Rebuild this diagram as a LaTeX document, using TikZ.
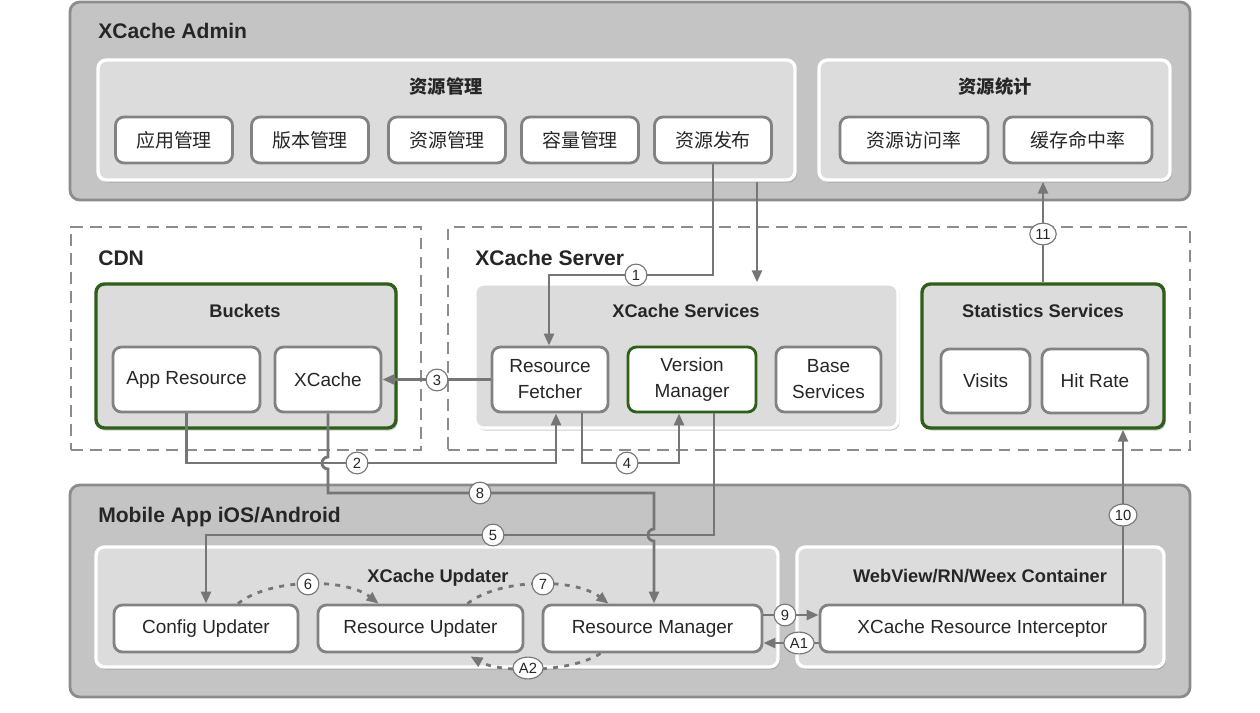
\documentclass[tikz,border=0pt]{standalone}
\usepackage{fontspec}
\setmainfont{Liberation Sans}
\newfontfamily\cjk{Noto Sans CJK SC}
\usetikzlibrary{arrows.meta,calc,shadows,shapes.geometric}
\definecolor{panelfill}{RGB}{196,196,196}
\definecolor{panelline}{RGB}{140,140,140}
\definecolor{grpfill}{RGB}{220,220,220}
\definecolor{boxline}{RGB}{130,130,130}
\definecolor{darkgreen}{RGB}{45,95,25}
\definecolor{flowgray}{RGB}{118,118,118}
\definecolor{textgray}{RGB}{38,38,38}
\tikzstyle{panel}=[draw=panelline,fill=panelfill,line width=2pt,rounded corners=7pt,inner sep=0]
\tikzstyle{zone}=[draw=panelline,line width=1.6pt,dash pattern=on 8.5pt off 5pt,inner sep=0]
\tikzset{
  sz/.style 2 args={minimum width=#1*0.025cm,minimum height=#2*0.025cm},
  grp/.style={fill=grpfill,draw=white,line width=2.4pt,rounded corners=6pt,inner sep=0,
    drop shadow={shadow xshift=1.2pt,shadow yshift=-1.8pt,opacity=0.4}},
  ggrp/.style={grp,draw=darkgreen},
  leaf/.style={fill=white,draw=boxline,line width=2pt,rounded corners=6pt,inner sep=0,
    align=center,text=textgray,font=\fontsize{13.5}{18.5}\selectfont},
  gleaf/.style={leaf,draw=darkgreen},
  ptitle/.style={anchor=west,inner sep=0,text=textgray,text height=10.7pt,text depth=0pt,
    font=\fontsize{15}{18}\selectfont\bfseries},
  gtitle/.style={inner sep=0,text=textgray,text height=9.3pt,text depth=0pt,
    font=\fontsize{13}{16}\selectfont\bfseries},
  badge/.style={ellipse,draw=flowgray,line width=0.8pt,fill=white,inner sep=1.2pt,
    minimum width=15.5pt,minimum height=15.5pt,text=textgray,font=\fontsize{10.5}{12}\selectfont},
  flow/.style={draw=flowgray,line width=2pt,-{Triangle[length=8.5pt,width=7pt]}},
  dflow/.style={flow,dash pattern=on 3.5pt off 4.5pt}
}

\begin{document}
\begin{tikzpicture}[x=0.025cm,y=-0.025cm]
\path[use as bounding box,fill=white] (0,0) rectangle (1260,712);

\node[panel,sz={1120}{198}] (admin) at (630,101) {};
\node[panel,sz={1120}{212}] (mob) at (630,591) {};
\node[zone,sz={350}{223}] (cdn) at (246,338.5) {};
\node[zone,sz={742}{223}] (srv) at (819,338.5) {};

\node[grp,sz={697}{120}] (mgmt) at (446.5,120) {};
\node[grp,sz={351}{120}] (stat) at (994.5,120) {};
\node[ggrp,sz={300}{144}] (bkt) at (246,356) {};
\node[grp,sz={423}{144}] (svc) at (686.5,356) {};
\node[ggrp,sz={242}{144}] (ss) at (1043,356) {};
\node[grp,sz={682}{120}] (upd) at (437,607) {};
\node[grp,sz={367}{120}] (ctr) at (980.5,607) {};

\node[leaf,sz={117}{46}] (appm) at (174,140) {\cjk 应用管理};
\node[leaf,sz={117}{46}] (verm) at (310,140) {\cjk 版本管理};
\node[leaf,sz={117}{46}] (resm) at (447,140) {\cjk 资源管理};
\node[leaf,sz={117}{46}] (capm) at (580,140) {\cjk 容量管理};
\node[leaf,sz={117}{46}] (rel) at (713,140) {\cjk 资源发布};
\node[leaf,sz={148}{46}] (vrate) at (914,140) {\cjk 资源访问率};
\node[leaf,sz={148}{46}] (hrate) at (1078,140) {\cjk 缓存命中率};

\node[leaf,sz={147}{65}] (appres) at (186.5,379.5) {App Resource};
\node[leaf,sz={106}{65}] (xc) at (328,379.5) {XCache};
\node[leaf,sz={116}{65}] (fetch) at (550,379.5) {Resource\\Fetcher};
\node[gleaf,sz={128}{65}] (vm) at (692,379.5) {Version\\Manager};
\node[leaf,sz={105}{65}] (base) at (828.5,379.5) {Base\\Services};
\node[leaf,sz={89}{64}] (visits) at (985.5,381) {Visits};
\node[leaf,sz={106}{64}] (hit) at (1095,381) {Hit Rate};

\node[leaf,sz={184}{47}] (cfg) at (206,628.5) {Config Updater};
\node[leaf,sz={205}{47}] (ru) at (420.5,628.5) {Resource Updater};
\node[leaf,sz={219}{47}] (rm) at (652.5,628.5) {Resource Manager};
\node[leaf,sz={325}{47}] (ic) at (982.5,628.5) {XCache Resource Interceptor};

\node[ptitle] (admint) at (98,31) {XCache Admin};
\node[ptitle] (cdnt) at (98,258) {CDN};
\node[ptitle] (srvt) at (475,258) {XCache Server};
\node[ptitle] (mobt) at (98,515) {Mobile App iOS/Android};
\node[gtitle] (mgmtt) at (446,87) {\cjk\bfseries 资源管理};
\node[gtitle] (statt) at (995,87) {\cjk\bfseries 资源统计};
\node[gtitle] (bktt) at (245,311) {Buckets};
\node[gtitle] (svct) at (686,311) {XCache Services};
\node[gtitle] (sst) at (1043,311) {Statistics Services};
\node[gtitle] (updt) at (438,576) {XCache Updater};
\node[gtitle] (ctrt) at (980,576) {WebView/RN/Weex Container};

\draw[flow] (rel.south) -- (713,275) -- (549,275) -- (fetch.north -| 549,0);
\draw[flow] (mgmt.south -| 757,0) -- (svc.north -| 757,0);
\draw[flow] (ss.north) -- (ss.north |- stat.south);
\draw[flow] (ic.north -| 1123,0) -- (ss.south -| 1123,0);
\draw[flow] (fetch.west) -- (xc.east);
\draw[flow] (appres.south) -- (186.5,463) -- (556,463) -- (fetch.south -| 556,0);
\draw[flow] (fetch.south -| 582,0) -- (582,463) -- (679,463) -- (vm.south -| 679,0);
\draw[flow] (vm.south -| 714,0) -- (714,535) -- (206,535) -- (cfg.north);
\draw[flow] (xc.south) -- (328,457) arc (270:90:6) -- (328,493) -- (654,493) -- (654,529) arc (270:90:6) -- (rm.north -| 654,0);
\draw[flow] (rm.east |- 0,615) -- (ic.west |- 0,615);
\draw[flow] (ic.west |- 0,643) -- (rm.east |- 0,643);
\draw[dflow] ($(cfg.north)+(32,0)$) .. controls (270,578) and (346,578) .. ($(ru.north)+(-42,0)$);
\draw[dflow] ($(ru.north)+(47,0)$) .. controls (500,578) and (575,578) .. ($(rm.north)+(-44,0)$);
\draw[dflow] ($(rm.south)+(-52,0)$) .. controls (570,673) and (500,673) .. ($(ru.south)+(50,3)$);

\node[badge] (t1) at (636,275) {1};
\node[badge] (t2) at (357,463) {2};
\node[badge] (t3) at (437,380) {3};
\node[badge] (t4) at (627,463) {4};
\node[badge] (t5) at (493,535) {5};
\node[badge] (t6) at (308,584) {6};
\node[badge] (t7) at (543,584) {7};
\node[badge] (t8) at (480,493) {8};
\node[badge] (t9) at (785,615) {9};
\node[badge] (t10) at (1123,515) {10};
\node[badge] (t11) at (1043,234) {11};
\node[badge] (ta1) at (799,643) {A1};
\node[badge] (ta2) at (528,668) {A2};

\end{tikzpicture}
\end{document}
